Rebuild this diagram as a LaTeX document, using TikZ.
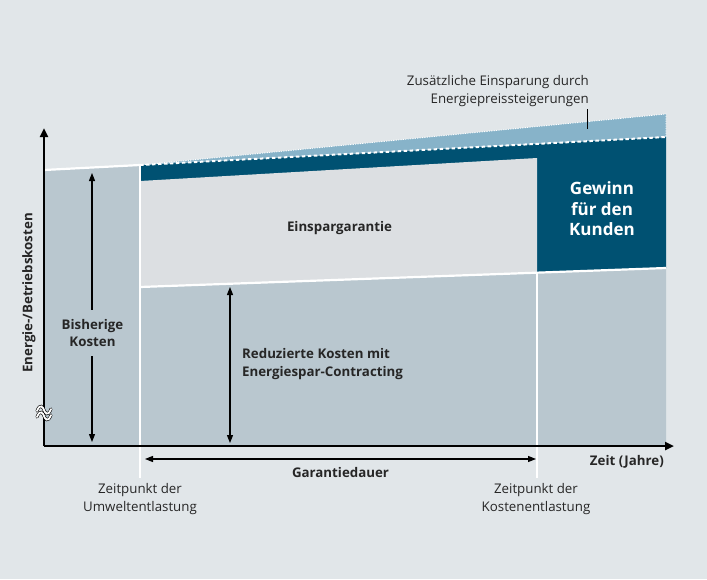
\documentclass[tikz,border=0pt]{standalone}
\usepackage{fontspec}
\setmainfont{Open Sans}
\usetikzlibrary{arrows.meta}
\definecolor{bgc}{RGB}{225,230,233}
\definecolor{lowc}{RGB}{185,199,207}
\definecolor{boxc}{RGB}{220,223,226}
\definecolor{darkc}{RGB}{0,81,114}
\definecolor{lightbc}{RGB}{135,179,201}
\tikzset{
  txt/.style={font=\fontsize{13.3}{17.5}\selectfont, text=black!85, inner sep=0pt},
  btxt/.style={txt, font=\fontsize{13.3}{17.5}\selectfont\bfseries},
  axisline/.style={line width=2.4pt, -{Triangle[length=9pt,width=8pt]}},
  dim/.style={line width=1.1pt, {Triangle[length=8pt,width=6pt]}-{Triangle[length=8pt,width=6pt]}},
  wline/.style={white, line width=2.2pt},
  brk/.style={line width=0.6pt, double=white, double distance=1.8pt, line cap=round},
}
\begin{document}
\begin{tikzpicture}[x=1pt,y=-1pt]
\useasboundingbox (0,0) rectangle (707,579);
\fill[bgc] (0,0) rectangle (707,579);

% coordinates
\coordinate (ltop) at (44,170);
\coordinate (ltopr) at (140,165);
\coordinate (rtop) at (666,137);
\coordinate (rtopl) at (666,114);
\coordinate (redl) at (140,287);
\coordinate (redm) at (537,272.5);
\coordinate (redr) at (666,268);
\coordinate (boxtl) at (140,181);
\coordinate (boxtr) at (537,158);
\coordinate (origin) at (44,446);
\coordinate (xend) at (674,446);
\coordinate (yend) at (44,128);

% left block
\fill[lowc] (origin) -- (ltop) -- (ltopr) -- (140,446) -- cycle;
% reduced region
\fill[lowc] (140,446) -- (redl) -- (redr) -- (666,446) -- cycle;
% dark blue band
\fill[darkc] (ltopr) -- (rtop) -- (redr) -- (redl) -- cycle;
% light box
\fill[boxc] (boxtl) -- (boxtr) -- (redm) -- (redl) -- cycle;
% light blue wedge
\fill[lightbc] (ltopr) -- (rtopl) -- (rtop) -- cycle;

% white lines
\draw[white, line width=0.9pt, dash pattern=on 1.2pt off 1.2pt] (ltopr) -- (rtopl) -- (rtop);
\draw[white, line width=2pt, dash pattern=on 3.5pt off 2.5pt] (ltopr) -- (rtop);
\draw[wline] (ltop) -- (ltopr);
\draw[wline] (140,163.5) -- (140,478);
\draw[wline] (redl) -- (redr);
\draw[wline] (redm) -- (537,478);

% axes
\draw[axisline] (origin) -- (xend);
\draw[axisline] (origin) -- (yend);

% axis break
\coordinate (b1a) at (37,411);
\coordinate (b1b) at (51,409);
\coordinate (b2a) at (37,417);
\coordinate (b2b) at (51,415);
\draw[brk] (b1a) .. controls (40,403) and (43,407) .. (44,410) .. controls (45,413) and (48,417) .. (b1b);
\draw[brk] (b2a) .. controls (40,409) and (43,413) .. (44,416) .. controls (45,419) and (48,423) .. (b2b);

% dimension arrows
\coordinate (bk1) at (92,173);
\coordinate (bk2) at (92,442);
\draw[dim] (bk1) -- (bk2);
\coordinate (rk1) at (230,287);
\coordinate (rk2) at (230,443);
\draw[dim] (rk1) -- (rk2);
\coordinate (gd1) at (145,459);
\coordinate (gd2) at (536,459);
\draw[dim] (gd1) -- (gd2);

% pointer
\coordinate (p1) at (587,109);
\coordinate (p2) at (587,129);
\draw[line width=0.9pt] (p1) -- (p2);

% labels
\node[btxt, fill=lowc, align=center, inner ysep=9pt, inner xsep=2pt] (bisher) at (92.5,333) {Bisherige\\Kosten};
\node[btxt, anchor=west, align=left] (reduz) at (242,364) {Reduzierte Kosten mit\\Energiespar-Contracting};
\node[btxt] (einsp) at (339.5,228) {Einspargarantie};
\node[btxt, text=white, align=center, font=\fontsize{17}{20.5}\selectfont\bfseries] (gewinn) at (602,209) {Gewinn\\für den\\Kunden};
\node[btxt] (garant) at (340.5,473) {Garantiedauer};
\node[btxt, anchor=east] (zeit) at (664,462) {Zeit (Jahre)};
\node[btxt, rotate=90] (ylab) at (29,293) {Energie-/Betriebskosten};
\node[txt, align=right, anchor=east] (zusatz) at (589,91) {Zusätzliche Einsparung durch\\Energiepreissteigerungen};
\node[txt, align=center] (zp1) at (140,499) {Zeitpunkt der\\Umweltentlastung};
\node[txt, align=center] (zp2) at (536,499) {Zeitpunkt der\\Kostenentlastung};
\end{tikzpicture}
\end{document}
